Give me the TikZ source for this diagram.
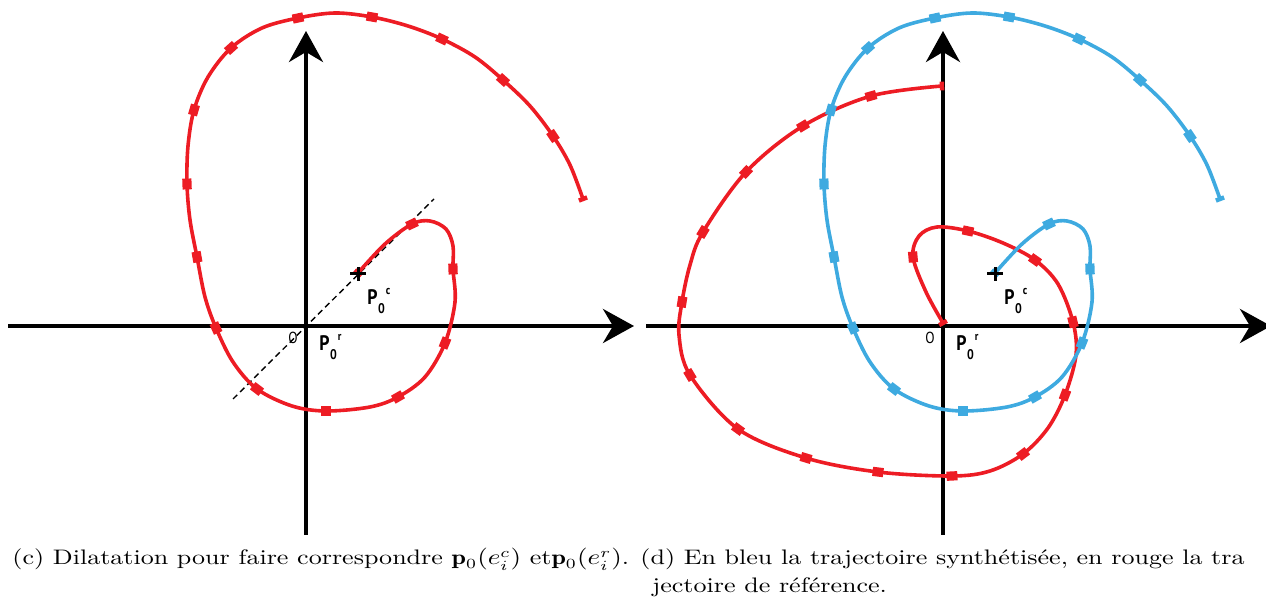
\documentclass[tikz,border=0pt]{standalone}
\usepackage{fontspec}
\usepackage{amsmath}
\usepackage{tikz}
\usetikzlibrary{arrows.meta}
\newfontfamily\lblfam[FakeStretch=0.85]{PT Sans}
\definecolor{trajred}{RGB}{237,28,36}
\definecolor{trajblue}{RGB}{62,170,224}
\tikzset{
  axe/.style  ={draw=black, line width=2pt, -{Stealth[length=15.5pt,width=17pt,inset=5pt]}},
  trajr/.style={draw=trajred, line width=1.8pt, line join=round},
  trajb/.style={draw=trajblue, line width=1.8pt, line join=round},
  mk/.style   ={rectangle, inner sep=0pt, minimum width=5.4pt, minimum height=4.6pt},
  mke/.style  ={rectangle, inner sep=0pt, minimum width=2.2pt, minimum height=4.4pt},
  lbl/.style  ={font=\lblfam\bfseries\fontsize{10.5}{10.5}\selectfont, inner sep=0pt, anchor=base west},
  orig/.style ={font=\lblfam\fontsize{8}{8}\selectfont, inner sep=0pt},
  captxt/.style={font=\fontsize{10.5}{14}\selectfont, inner sep=0pt, anchor=base west},
}
\newcommand{\lsub}[1]{\kern0.2pt\raisebox{-4.5pt}{\fontsize{7}{7}\selectfont #1}}
\newcommand{\lsup}[1]{\kern0.6pt\raisebox{5pt}{\fontsize{6}{6}\selectfont #1}}
\newcommand{\capt}[1]{\scalebox{1.24}[1]{#1}}

\begin{document}
\begin{tikzpicture}[x=0.5pt,y=-0.5pt]
  \clip (0,0) rectangle (1266,608);
  % panel (c)
  \draw[axe] (8,326) -- (634,326);
  \draw[axe] (306,535) -- (306,31);
  \draw[dashed, dash pattern=on 3pt off 2pt, line width=0.7pt] (233,399) -- (434,199);
  \draw[trajr] plot[smooth,tension=0.55] coordinates {(358,273) (385,244) (412,224) (430,221) (446,229) (453,246) (453,269) (455,302) (445,343) (425,377) (398,397) (370,407) (326,411) (292,406) (257,389) (233,362) (216,328) (205,297) (197,257) (190,220) (187,184) (188,146) (194,110) (208,77) (231,48) (262,28) (298,18) (335,13) (372,17) (408,26) (442,39) (475,57) (503,80) (530,106) (553,136) (570,165) (583,199)};
  \node[mke,fill=trajred,rotate=48] (c0) at (358,273) {};
  \node[mk,fill=trajred,rotate=25] (c1) at (412,224) {};
  \node[mk,fill=trajred,rotate=92] (c2) at (453,269) {};
  \node[mk,fill=trajred,rotate=68] (c3) at (445,343) {};
  \node[mk,fill=trajred,rotate=30] (c4) at (398,397) {};
  \node[mk,fill=trajred,rotate=0] (c5) at (326,411) {};
  \node[mk,fill=trajred,rotate=143] (c6) at (257,389) {};
  \node[mk,fill=trajred,rotate=114] (c7) at (216,328) {};
  \node[mk,fill=trajred,rotate=100] (c8) at (197,257) {};
  \node[mk,fill=trajred,rotate=92] (c9) at (187,184) {};
  \node[mk,fill=trajred,rotate=74] (c10) at (194,110) {};
  \node[mk,fill=trajred,rotate=42] (c11) at (231,48) {};
  \node[mk,fill=trajred,rotate=12] (c12) at (298,18) {};
  \node[mk,fill=trajred,rotate=-10] (c13) at (372,17) {};
  \node[mk,fill=trajred,rotate=-25] (c14) at (442,39) {};
  \node[mk,fill=trajred,rotate=-42] (c15) at (503,80) {};
  \node[mk,fill=trajred,rotate=-56] (c16) at (553,136) {};
  \node[mke,fill=trajred,rotate=-69] (c17) at (583,199) {};
  \draw[line width=1.5pt] (350,274) -- (366,274);
  \draw[line width=1.5pt] (358,267) -- (358,281);
  \node[lbl] (pc) at (367,305) {P\lsub{0}\lsup{c}};
  \node[lbl] (pr) at (319,351) {P\lsub{0}\lsup{r}};
  \node[orig] (o1) at (293,338) {O};
  % panel (d)
  \draw[axe] (646,326) -- (1271,326);
  \draw[axe] (943,535) -- (943,31);
  \draw[trajr] plot[smooth,tension=0.55] coordinates {(943,323) (926,292) (913,257) (919,236) (937,227) (968,231) (1003,243) (1035,260) (1058,284) (1073,322) (1076,355) (1065,395) (1048,428) (1023,454) (990,471) (952,476) (878,472) (806,458) (738,429) (690,375) (679,335) (682,302) (690,265) (703,232) (746,172) (803,126) (871,96) (942,86)};
  \node[mke,fill=trajred,rotate=119] (r0) at (943,323) {};
  \node[mk,fill=trajred,rotate=95] (r1) at (913,257) {};
  \node[mk,fill=trajred,rotate=-12] (r2) at (968,231) {};
  \node[mk,fill=trajred,rotate=-35] (r3) at (1035,260) {};
  \node[mk,fill=trajred,rotate=-76] (r4) at (1073,322) {};
  \node[mk,fill=trajred,rotate=69] (r5) at (1065,395) {};
  \node[mk,fill=trajred,rotate=37] (r6) at (1023,454) {};
  \node[mk,fill=trajred,rotate=3] (r7) at (952,476) {};
  \node[mk,fill=trajred,rotate=-7] (r8) at (878,472) {};
  \node[mk,fill=trajred,rotate=-17] (r9) at (806,458) {};
  \node[mk,fill=trajred,rotate=-36] (r10) at (738,429) {};
  \node[mk,fill=trajred,rotate=121] (r11) at (690,375) {};
  \node[mk,fill=trajred,rotate=81] (r12) at (682,302) {};
  \node[mk,fill=trajred,rotate=59] (r13) at (703,232) {};
  \node[mk,fill=trajred,rotate=47] (r14) at (746,172) {};
  \node[mk,fill=trajred,rotate=31] (r15) at (803,126) {};
  \node[mk,fill=trajred,rotate=16] (r16) at (871,96) {};
  \node[mke,fill=trajred,rotate=2] (r17) at (942,86) {};
  \begin{scope}[shift={(637,0)}]
    \draw[trajb] plot[smooth,tension=0.55] coordinates {(358,273) (385,244) (412,224) (430,221) (446,229) (453,246) (453,269) (455,302) (445,343) (425,377) (398,397) (370,407) (326,411) (292,406) (257,389) (233,362) (216,328) (205,297) (197,257) (190,220) (187,184) (188,146) (194,110) (208,77) (231,48) (262,28) (298,18) (335,13) (372,17) (408,26) (442,39) (475,57) (503,80) (530,106) (553,136) (570,165) (583,199)};
    \node[mke,fill=trajblue,rotate=48] (b0) at (358,273) {};
    \node[mk,fill=trajblue,rotate=25] (b1) at (412,224) {};
    \node[mk,fill=trajblue,rotate=92] (b2) at (453,269) {};
    \node[mk,fill=trajblue,rotate=68] (b3) at (445,343) {};
    \node[mk,fill=trajblue,rotate=30] (b4) at (398,397) {};
    \node[mk,fill=trajblue,rotate=0] (b5) at (326,411) {};
    \node[mk,fill=trajblue,rotate=143] (b6) at (257,389) {};
    \node[mk,fill=trajblue,rotate=114] (b7) at (216,328) {};
    \node[mk,fill=trajblue,rotate=100] (b8) at (197,257) {};
    \node[mk,fill=trajblue,rotate=92] (b9) at (187,184) {};
    \node[mk,fill=trajblue,rotate=74] (b10) at (194,110) {};
    \node[mk,fill=trajblue,rotate=42] (b11) at (231,48) {};
    \node[mk,fill=trajblue,rotate=12] (b12) at (298,18) {};
    \node[mk,fill=trajblue,rotate=-10] (b13) at (372,17) {};
    \node[mk,fill=trajblue,rotate=-25] (b14) at (442,39) {};
    \node[mk,fill=trajblue,rotate=-42] (b15) at (503,80) {};
    \node[mk,fill=trajblue,rotate=-56] (b16) at (553,136) {};
    \node[mke,fill=trajblue,rotate=-69] (b17) at (583,199) {};
    \draw[line width=1.5pt] (350,274) -- (366,274);
    \draw[line width=1.5pt] (358,267) -- (358,281);
    \node[lbl] (pc2) at (367,305) {P\lsub{0}\lsup{c}};
    \node[lbl] (pr2) at (319,351) {P\lsub{0}\lsup{r}};
    \node[orig] (o2) at (293,338) {O};
  \end{scope}
  % captions
  \node[captxt] (capc) at (12,565) {\capt{(c) Dilatation pour faire correspondre $\mathbf{p}_0(e_i^c)$ et$\mathbf{p}_0(e_i^r)$.}};
  \node[captxt] (capd) at (640,565) {\capt{(d) En bleu la trajectoire synthétisée, en rouge la tra}};
  \node[captxt] (capd2) at (652,593) {\capt{jectoire de référence.}};
\end{tikzpicture}
\end{document}
